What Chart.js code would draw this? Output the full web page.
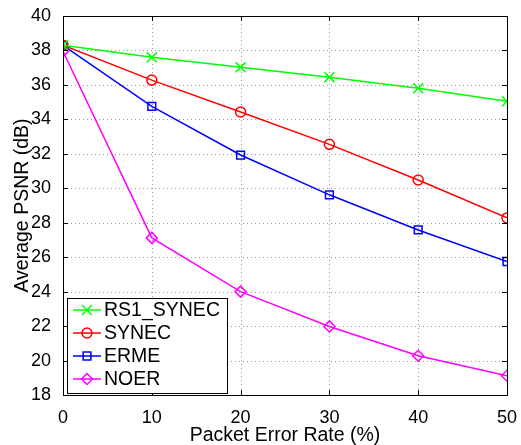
<!DOCTYPE html>
<html>
<head>
<meta charset="utf-8">
<script src="https://cdn.jsdelivr.net/npm/chart.js@4.4.1/dist/chart.umd.min.js"></script>
<style>
  html, body { margin: 0; padding: 0; background: #fff; }
  #wrap { width: 521px; height: 445px; }
</style>
</head>
<body>
<div id="wrap"><canvas id="chart" width="521" height="445"></canvas></div>
<script>
// Data
const errorRates = [0, 10, 20, 30, 40, 50];
const rs1Synec = [38.3, 37.6, 37.02, 36.45, 35.8, 35.05];
const synec = [38.3, 36.28, 34.43, 32.55, 30.48, 28.28];
const erme = [38.3, 34.75, 31.93, 29.62, 27.58, 25.75];
const noer = [37.95, 27.12, 24.0, 21.98, 20.28, 19.12];

const FONT = '"Liberation Sans", Arial, sans-serif';

const seriesDefs = [
  { label: 'RS1_SYNEC', values: rs1Synec, color: '#00ff00', style: 'crossRot', radius: 7 },
  { label: 'SYNEC', values: synec, color: '#ff0000', style: 'circle', radius: 5 },
  { label: 'ERME', values: erme, color: '#0000ff', style: 'rect', radius: 5.5 },
  { label: 'NOER', values: noer, color: '#ff00ff', style: 'rectRot', radius: 5.5 },
];

const datasets = seriesDefs.map(s => ({
  label: s.label,
  data: errorRates.map((x, i) => ({ x: x, y: s.values[i] })),
  borderColor: s.color,
  backgroundColor: 'rgba(0,0,0,0)',
  borderWidth: 1.5,
  pointStyle: s.style,
  pointRadius: s.radius,
  pointBorderColor: s.color,
  pointBackgroundColor: 'rgba(0,0,0,0)',
  pointBorderWidth: 1.5,
  showLine: true,
  tension: 0,
}));

// dotted grid, drawn under the lines
const dottedGrid = {
  id: 'dottedGrid',
  beforeDatasetsDraw(chart) {
    const { ctx, chartArea: a, scales } = chart;
    ctx.save();
    ctx.strokeStyle = '#9a9a9a';
    ctx.lineWidth = 1;
    ctx.setLineDash([1, 3]);
    ctx.beginPath();
    scales.x.ticks.forEach(t => {
      const px = Math.round(scales.x.getPixelForValue(t.value)) + 0.5;
      ctx.moveTo(px, a.top); ctx.lineTo(px, a.bottom);
    });
    scales.y.ticks.forEach(t => {
      const py = Math.round(scales.y.getPixelForValue(t.value)) + 0.5;
      ctx.moveTo(a.left, py); ctx.lineTo(a.right, py);
    });
    ctx.stroke();
    ctx.restore();
  }
};

// box around plot + inward ticks (MATLAB style)
const frame = {
  id: 'frame',
  afterDraw(chart) {
    const { ctx, chartArea: a, scales } = chart;
    ctx.save();
    ctx.strokeStyle = '#000';
    ctx.lineWidth = 1;
    ctx.beginPath();
    scales.x.ticks.forEach(t => {
      const px = Math.round(scales.x.getPixelForValue(t.value)) + 0.5;
      ctx.moveTo(px, a.bottom); ctx.lineTo(px, a.bottom - 5);
      ctx.moveTo(px, a.top); ctx.lineTo(px, a.top + 5);
    });
    scales.y.ticks.forEach(t => {
      const py = Math.round(scales.y.getPixelForValue(t.value)) + 0.5;
      ctx.moveTo(a.left, py); ctx.lineTo(a.left + 5, py);
      ctx.moveTo(a.right, py); ctx.lineTo(a.right - 5, py);
    });
    ctx.stroke();
    ctx.strokeRect(Math.round(a.left) + 0.5, Math.round(a.top) + 0.5,
      Math.round(a.right - a.left), Math.round(a.bottom - a.top));
    ctx.restore();
  }
};

// legend inside plot, lower left
const boxLegend = {
  id: 'boxLegend',
  afterDraw(chart) {
    const { ctx, chartArea: a } = chart;
    const x0 = a.left + 4, y1 = a.bottom - 2;
    const w = 160, h = 95, y0 = y1 - h;
    ctx.save();
    ctx.fillStyle = '#fff';
    ctx.fillRect(x0, y0, w, h);
    ctx.strokeStyle = '#000';
    ctx.lineWidth = 1;
    ctx.strokeRect(x0 + 0.5, y0 + 0.5, w, h);
    ctx.textBaseline = 'middle';
    seriesDefs.forEach((s, i) => {
      const cy = y0 + 12 + i * 23;
      ctx.strokeStyle = s.color;
      ctx.lineWidth = 1.5;
      ctx.beginPath();
      ctx.moveTo(x0 + 6, cy); ctx.lineTo(x0 + 34, cy);
      ctx.stroke();
      ctx.fillStyle = 'rgba(0,0,0,0)';
      Chart.helpers.drawPoint(ctx, {
        pointStyle: s.style, radius: s.radius, borderWidth: 1.5
      }, x0 + 20, cy);
      ctx.fillStyle = '#000';
      ctx.font = '19.5px ' + FONT;
      ctx.fillText(s.label, x0 + 37, cy + 1);
    });
    ctx.restore();
  }
};

new Chart(document.getElementById('chart'), {
  type: 'scatter',
  data: { datasets },
  plugins: [dottedGrid, frame, boxLegend],
  options: {
    responsive: false,
    animation: false,
    layout: { padding: { left: 0, right: 13, top: 16, bottom: 0 } },
    plugins: { legend: { display: false }, tooltip: { enabled: false } },
    scales: {
      x: {
        type: 'linear', min: 0, max: 50,
        afterFit(s) { s.height = 50; },
        ticks: { stepSize: 10, color: '#000', font: { family: FONT, size: 18 }, padding: 4, maxRotation: 0 },
        grid: { display: false },
        border: { display: false },
        title: { display: true, text: 'Packet Error Rate (%)', color: '#000', font: { family: FONT, size: 19.5, lineHeight: 1.0 }, padding: { top: 0, bottom: 0 } },
      },
      y: {
        type: 'linear', min: 18, max: 40,
        afterFit(s) { s.width = 63; },
        ticks: { stepSize: 2, color: '#000', font: { family: FONT, size: 18 }, padding: 4 },
        grid: { display: false },
        border: { display: false },
        title: { display: true, text: 'Average PSNR (dB)', color: '#000', font: { family: FONT, size: 19.5 }, padding: { top: 11, bottom: 0 } },
      },
    },
  },
});
</script>
</body>
</html>
